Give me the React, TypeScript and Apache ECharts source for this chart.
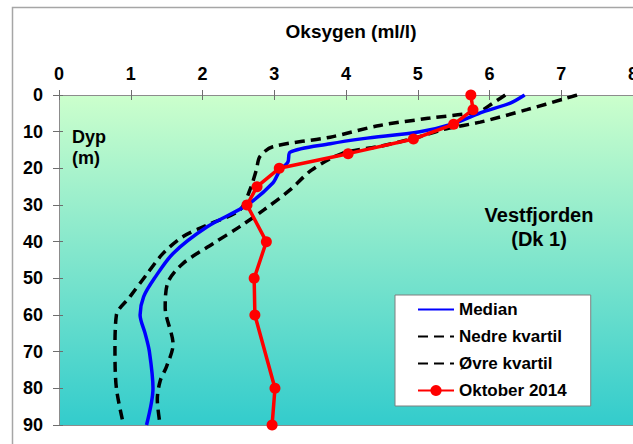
import React, { useEffect, useRef } from "react";
import * as echarts from "echarts";

// Oxygen profiles (ml/l) against depth (m), Vestfjorden station Dk 1.
// Each point is [oxygen, depth].
const medianProfile: [number, number][] = [
  [6.49, 0], [6.29, 2.2], [5.91, 4.6], [5.5, 7.8], [5.03, 10], [4.24, 11.9],
  [3.78, 13.3], [3.22, 15.6], [3.19, 18.3], [3.08, 20.5], [2.98, 24], [2.62, 30],
  [2.06, 36], [1.59, 43.2], [1.33, 50], [1.18, 55], [1.13, 60], [1.2, 65],
  [1.26, 70], [1.31, 80], [1.22, 90],
];

const lowerQuartile: [number, number][] = [
  [6.22, 0], [6.05, 2.2], [5.85, 4.5], [5.17, 6.3], [4.47, 8.3], [3.78, 11.5],
  [2.98, 14.1], [2.8, 16.8], [2.75, 20.5], [2.66, 25.9], [2.52, 31.4], [2.06, 35.5],
  [1.73, 38.6], [1.45, 43.2], [1.22, 49], [0.99, 55], [0.8, 60], [0.78, 70],
  [0.8, 80], [0.9, 90],
];

const upperQuartile: [number, number][] = [
  [7.22, 0], [7.05, 1], [6.52, 4], [5.87, 7.4], [5.4, 9.2], [4.95, 11.8],
  [4.47, 14], [3.95, 15.9], [3.52, 20.5], [3.22, 25.9], [2.85, 31.4], [2.52, 35.9],
  [2.15, 40.5], [1.73, 45.9], [1.52, 51], [1.48, 58], [1.59, 68], [1.5, 74],
  [1.41, 78], [1.37, 83], [1.41, 90],
];

const oct2014Depths = [0, 4, 8, 12, 16, 20, 25, 30, 40, 50, 60, 80, 90];
const oct2014Oxygen = [5.74, 5.77, 5.5, 4.94, 4.03, 3.07, 2.76, 2.62, 2.89, 2.72, 2.73, 3.01, 2.97];

const seriesNames = ["Median", "Nedre kvartil", "Øvre kvartil", "Oktober 2014"];
const axisTitle = "Oksygen (ml/l)";
const depthTitle = "Dyp\n(m)";
const stationLabel = "Vestfjorden\n(Dk 1)";

const FONT = "'Liberation Sans', Arial, sans-serif";
const WIDTH = 633;
const HEIGHT = 444;

export default function App() {
  const ref = useRef<HTMLDivElement>(null);

  useEffect(() => {
    if (!ref.current) return;
    const chart = echarts.init(ref.current, undefined, {
      renderer: "svg",
      width: WIDTH,
      height: HEIGHT,
    });

    const octData = oct2014Depths.map((d, i) => [oct2014Oxygen[i], d]);

    const xBase = { type: "value" as const, min: 0, max: 8, interval: 1, gridIndex: 0 };
    const yBase = { type: "value" as const, min: 0, max: 90, interval: 10, inverse: true, gridIndex: 0 };
    const tickColor = "#6e6e6e";
    // profile lines carry no point markers; keep their legend marker invisible too
    const hiddenMarker = { color: "rgba(0,0,0,0)", borderWidth: 0 };

    chart.setOption({
      animation: false,
      backgroundColor: "#ffffff",
      textStyle: { fontFamily: FONT },
      grid: {
        left: 59,
        right: 0,
        top: 95,
        bottom: 19,
        containLabel: false,
        outerBoundsMode: "none",
        show: true,
        borderWidth: 0,
        backgroundColor: new echarts.graphic.LinearGradient(0, 0, 0, 1, [
          { offset: 0, color: "#ccffcc" },
          { offset: 1, color: "#33cccc" },
        ]),
      },
      xAxis: [
        {
          ...xBase,
          position: "top",
          axisLine: { show: true, onZero: false, lineStyle: { color: "#8c8c8c", width: 1 } },
          axisTick: { show: true, length: 5, lineStyle: { color: tickColor } },
          axisLabel: {
            show: true,
            margin: 12,
            color: "#000",
            fontSize: 18,
            fontWeight: "bold",
            fontFamily: FONT,
          },
          splitLine: { show: false },
        },
        {
          ...xBase,
          position: "top",
          axisLine: { show: false, onZero: false },
          axisTick: { show: true, inside: true, length: 5, lineStyle: { color: tickColor } },
          axisLabel: { show: false },
          splitLine: { show: false },
        },
        {
          ...xBase,
          position: "bottom",
          axisLine: { show: true, onZero: false, lineStyle: { color: "#8c8c8c", width: 1 } },
          axisTick: { show: false },
          axisLabel: { show: false },
          splitLine: { show: false },
        },
      ],
      yAxis: [
        {
          ...yBase,
          position: "left",
          axisLine: { show: true, onZero: false, lineStyle: { color: "#8c8c8c", width: 1 } },
          axisTick: { show: true, length: 6, lineStyle: { color: tickColor } },
          axisLabel: {
            show: true,
            margin: 16,
            color: "#000",
            fontSize: 18,
            fontWeight: "bold",
            fontFamily: FONT,
          },
          splitLine: { show: false },
        },
        {
          ...yBase,
          position: "left",
          axisLine: { show: false, onZero: false },
          axisTick: { show: true, inside: true, length: 4, lineStyle: { color: tickColor } },
          axisLabel: { show: false },
          splitLine: { show: false },
        },
      ],
      legend: {
        data: seriesNames,
        orient: "vertical",
        left: 395,
        top: 295,
        padding: [6, 24, 7, 22],
        itemGap: 10,
        itemWidth: 36,
        itemHeight: 14,
        selectedMode: false,
        backgroundColor: "#ffffff",
        borderColor: "#7f7f7f",
        borderWidth: 1,
        borderRadius: 0,
        textStyle: { color: "#000", fontSize: 17, fontWeight: "bold", fontFamily: FONT },
      },
      graphic: [
        {
          type: "rect",
          silent: true,
          z: -1,
          shape: { x: 12.5, y: 7.5, width: 700, height: 500 },
          style: { fill: "none", stroke: "#a6a6a6", lineWidth: 1.5 },
        },
        {
          type: "text",
          x: 351,
          y: 31,
          silent: true,
          style: {
            text: axisTitle,
            fill: "#000",
            font: `bold 19px ${FONT}`,
            align: "center",
            verticalAlign: "middle",
            textAlign: "center",
            textVerticalAlign: "middle",
          },
        },
        {
          type: "text",
          x: 72,
          y: 126,
          silent: true,
          z: 10,
          style: {
            text: depthTitle,
            fill: "#000",
            font: `bold 18px ${FONT}`,
            lineHeight: 21,
            align: "left",
            verticalAlign: "top",
          },
        },
        {
          type: "text",
          x: 539,
          y: 203,
          silent: true,
          z: 10,
          style: {
            text: stationLabel,
            fill: "#000",
            font: `bold 20px ${FONT}`,
            lineHeight: 24,
            align: "center",
            verticalAlign: "top",
            textAlign: "center",
          },
        },
      ],
      series: [
        {
          name: seriesNames[0],
          type: "line",
          xAxisIndex: 0,
          yAxisIndex: 0,
          data: medianProfile,
          smooth: 0.3,
          symbol: "circle",
          showSymbol: false,
          lineStyle: { color: "#0000ff", width: 3.5 },
          itemStyle: hiddenMarker,
          z: 3,
        },
        {
          name: seriesNames[1],
          type: "line",
          xAxisIndex: 0,
          yAxisIndex: 0,
          data: lowerQuartile,
          smooth: 0.3,
          symbol: "circle",
          showSymbol: false,
          lineStyle: { color: "#000000", width: 3.5, type: [10, 6] },
          itemStyle: hiddenMarker,
          z: 2,
        },
        {
          name: seriesNames[2],
          type: "line",
          xAxisIndex: 0,
          yAxisIndex: 0,
          data: upperQuartile,
          smooth: 0.3,
          symbol: "circle",
          showSymbol: false,
          lineStyle: { color: "#000000", width: 3.5, type: [10, 6] },
          itemStyle: hiddenMarker,
          z: 2,
        },
        {
          name: seriesNames[3],
          type: "line",
          xAxisIndex: 0,
          yAxisIndex: 0,
          data: octData,
          symbol: "circle",
          symbolSize: 11,
          lineStyle: { color: "#ff0000", width: 3.5 },
          itemStyle: { color: "#ff0000" },
          z: 4,
        },
      ],
    });

    return () => chart.dispose();
  }, []);

  return (
    <div
      ref={ref}
      style={{ position: "fixed", left: 0, top: 0, width: WIDTH, height: HEIGHT }}
    />
  );
}
